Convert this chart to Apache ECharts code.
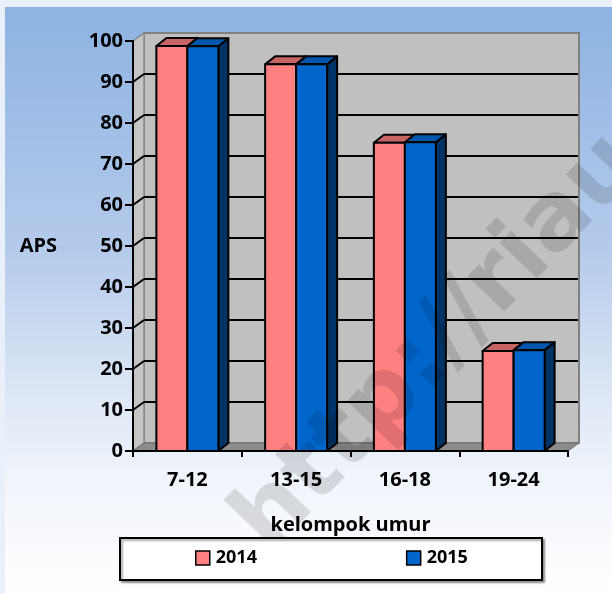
<!DOCTYPE html>
<html>
<head>
<meta charset="utf-8">
<script src="https://cdn.jsdelivr.net/npm/echarts@6/dist/echarts.min.js"></script>
<style>
  html, body { margin: 0; padding: 0; background: #ffffff; }
  #chart { width: 612px; height: 594px; }
</style>
</head>
<body>
<div id="chart"></div>
<script>
// Angka Partisipasi Sekolah (APS) menurut kelompok umur
const categories = ['7-12', '13-15', '16-18', '19-24'];
const seriesNames = ['2014', '2015'];
const aps2014 = [98.8, 94.3, 75.2, 24.4];
const aps2015 = [98.7, 94.3, 75.3, 24.6];
const yTicks = { min: 0, max: 100, interval: 10 };

const FONT = '"Open Sans"';
const WALL_DX = 11, WALL_DY = 8;   // depth of the 3D box walls
const BAR_DX = 10, BAR_DY = 8;     // depth of each 3D bar
const BAR_FRAC = 0.285;            // front face width as share of category band

// Back wall, side wall, floor and gridlines of the 3D box
function renderFrame(params, api) {
  const cs = params.coordSys;
  const L = cs.x, R = cs.x + cs.width;
  const yTop = api.coord([0, yTicks.max])[1];
  const yBot = api.coord([0, yTicks.min])[1];
  const children = [];
  children.push({
    type: 'polygon',
    shape: { points: [[L + WALL_DX, yTop - WALL_DY], [R + WALL_DX, yTop - WALL_DY], [R + WALL_DX, yBot - WALL_DY], [L + WALL_DX, yBot - WALL_DY]] },
    style: { fill: '#C0C0C0', stroke: '#808080', lineWidth: 2 }
  });
  children.push({
    type: 'polygon',
    shape: { points: [[L, yTop], [L + WALL_DX, yTop - WALL_DY], [L + WALL_DX, yBot - WALL_DY], [L, yBot]] },
    style: { fill: '#C4C4C4', stroke: '#8A8A8A', lineWidth: 1.5 }
  });
  for (let v = yTicks.min + yTicks.interval; v < yTicks.max; v += yTicks.interval) {
    const y = api.coord([0, v])[1];
    children.push({
      type: 'line',
      shape: { x1: L + WALL_DX, y1: y - WALL_DY, x2: R + WALL_DX - 1, y2: y - WALL_DY },
      style: { stroke: '#000', lineWidth: 2 }
    });
    children.push({
      type: 'line',
      shape: { x1: L, y1: y, x2: L + WALL_DX, y2: y - WALL_DY },
      style: { stroke: '#000', lineWidth: 2 }
    });
  }
  children.push({
    type: 'polygon',
    shape: { points: [[L, yBot], [L + WALL_DX, yBot - WALL_DY], [R + WALL_DX, yBot - WALL_DY], [R, yBot]] },
    style: { fill: '#8C8C8C', stroke: '#6E6E6E', lineWidth: 1 }
  });
  return { type: 'group', children: children };
}

// One 3D bar: front face, top face and right side face
function barRenderer(onLeft, front, top, side) {
  return function (params, api) {
    const idx = api.value(0);
    const val = api.value(1);
    const pTop = api.coord([idx, val]);
    const pBase = api.coord([idx, 0]);
    const band = api.size([1, 0])[0];
    const w = band * BAR_FRAC;
    const x0 = onLeft ? pTop[0] - w : pTop[0];
    const x1 = x0 + w;
    const yt = pTop[1], yb = pBase[1];
    const stroke = { stroke: '#000', lineWidth: 2, lineJoin: 'round' };
    return {
      type: 'group',
      children: [
        {
          type: 'polygon',
          shape: { points: [[x1, yt], [x1 + BAR_DX, yt - BAR_DY], [x1 + BAR_DX, yb - BAR_DY], [x1, yb]] },
          style: Object.assign({ fill: side }, stroke)
        },
        {
          type: 'polygon',
          shape: { points: [[x0, yt], [x0 + BAR_DX, yt - BAR_DY], [x1 + BAR_DX, yt - BAR_DY], [x1, yt]] },
          style: Object.assign({ fill: top }, stroke)
        },
        {
          type: 'rect',
          shape: { x: x0, y: yt, width: w, height: yb - yt },
          style: Object.assign({ fill: front }, stroke)
        }
      ]
    };
  };
}

const labelFont = { fontFamily: FONT, fontWeight: 'bold', fontSize: 20, color: '#000' };

const chart = echarts.init(document.getElementById('chart'), null, { renderer: 'canvas' });
chart.setOption({
  animation: false,
  backgroundColor: '#E9F0F9',
  graphic: [
    {
      type: 'rect', z: -10, silent: true,
      shape: { x: 5, y: 7, width: 607, height: 587 },
      style: {
        fill: new echarts.graphic.LinearGradient(0, 0, 0, 1, [
          { offset: 0, color: '#8DB3E2' },
          { offset: 0.41, color: '#B4CAEB' },
          { offset: 0.67, color: '#DFE8F6' },
          { offset: 0.8, color: '#F0F4FB' },
          { offset: 1, color: '#FFFFFF' }
        ])
      }
    },
    {
      type: 'text', z: 50, silent: true,
      x: 252, y: 538, rotation: 46 * Math.PI / 180,
      style: {
        text: 'http://riau.bps.go.id',
        font: 'bold 94px "DejaVu Sans"',
        fill: 'rgba(0,0,0,0.12)',
        align: 'left', verticalAlign: 'middle'
      }
    },
    {
      type: 'rect', z: 60, silent: true,
      shape: { x: 120, y: 538, width: 422, height: 42 },
      style: {
        fill: '#FFFFFF', stroke: '#000', lineWidth: 2,
        shadowColor: 'rgba(0,0,0,0.35)', shadowBlur: 2, shadowOffsetX: 2, shadowOffsetY: 2
      }
    }
  ],
  legend: {
    z: 70,
    data: seriesNames,
    left: 195, top: 549, padding: 0,
    icon: 'rect', itemWidth: 14, itemHeight: 14, itemGap: 149,
    itemStyle: { borderColor: '#000', borderWidth: 1.5 },
    textStyle: { fontFamily: FONT, fontWeight: 'bold', fontSize: 18, color: '#000', padding: [0, 0, 0, 1] }
  },
  grid: { left: 133, top: 41, width: 435, height: 410, containLabel: false },
  xAxis: {
    type: 'category',
    data: categories,
    z: 10,
    boundaryGap: true,
    name: 'kelompok umur',
    nameLocation: 'middle',
    nameGap: 64,
    nameTextStyle: labelFont,
    axisLine: { lineStyle: { color: '#000', width: 2 } },
    axisTick: { show: true, length: 6, lineStyle: { color: '#000', width: 2 } },
    axisLabel: Object.assign({ margin: 19 }, labelFont),
    splitLine: { show: false }
  },
  yAxis: {
    type: 'value',
    min: yTicks.min, max: yTicks.max, interval: yTicks.interval,
    z: 10,
    name: 'APS',
    nameLocation: 'middle',
    nameRotate: 0,
    nameGap: 76,
    nameTextStyle: Object.assign({ padding: [10, 0, 0, 0] }, labelFont),
    axisLine: { show: true, lineStyle: { color: '#000', width: 2 } },
    axisTick: { show: true, length: 8, lineStyle: { color: '#000', width: 2 } },
    axisLabel: Object.assign({ margin: 10 }, labelFont),
    splitLine: { show: false }
  },
  series: [
    {
      name: 'frame',
      type: 'custom',
      z: 1,
      silent: true,
      clip: false,
      renderItem: renderFrame,
      data: [[0, 0]]
    },
    {
      name: seriesNames[0],
      type: 'custom',
      z: 3,
      clip: false,
      itemStyle: { color: '#FF8080' },
      renderItem: barRenderer(true, '#FF8080', '#C86464', '#B05050'),
      data: aps2014.map((v, i) => [i, v])
    },
    {
      name: seriesNames[1],
      type: 'custom',
      z: 4,
      clip: false,
      itemStyle: { color: '#0066CC' },
      renderItem: barRenderer(false, '#0066CC', '#0056AC', '#003366'),
      data: aps2015.map((v, i) => [i, v])
    }
  ]
});
</script>
</body>
</html>
